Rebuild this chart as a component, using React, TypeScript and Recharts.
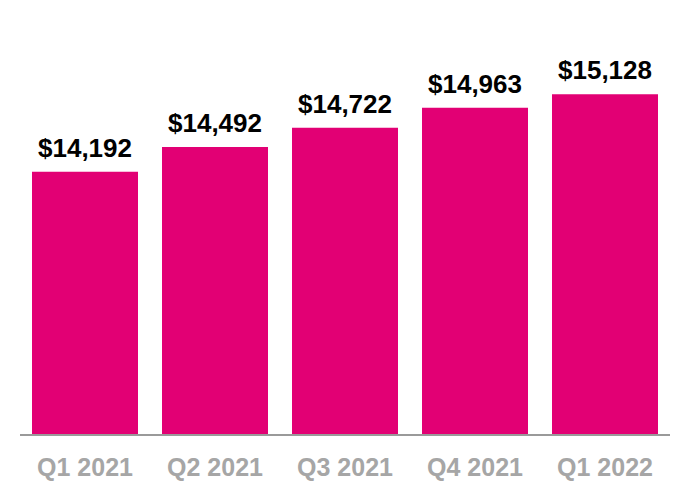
import React from "react";
import { Bar, BarChart, LabelList, XAxis, YAxis } from "recharts";

const quarters = ["Q1 2021", "Q2 2021", "Q3 2021", "Q4 2021", "Q1 2022"];
const revenue = [14192, 14492, 14722, 14963, 15128];

const data = quarters.map((q, i) => ({ quarter: q, value: revenue[i] }));

const fmtDollar = (v: number) => `$${Number(v).toLocaleString("en-US")}`;

export default function App() {
  return (
    <div style={{ position: "absolute", left: 0, top: 0, width: 690, height: 500, background: "#fff" }}>
      <BarChart
        width={690}
        height={500}
        data={data}
        margin={{ top: 55, right: 20, bottom: 0, left: 20 }}
        barSize={106}
      >
        <XAxis
          dataKey="quarter"
          height={65}
          axisLine={{ stroke: "#9a9a9a", strokeWidth: 2 }}
          tickLine={false}
          tickMargin={17}
          tick={{
            fill: "#a6a6a6",
            fontSize: 25,
            fontWeight: "bold",
            fontFamily: "Liberation Sans, Arial, sans-serif",
          }}
        />
        <YAxis hide domain={[11020, 15600]} />
        <Bar dataKey="value" fill="#e20074" isAnimationActive={false}>
          <LabelList
            dataKey="value"
            position="top"
            offset={15}
            formatter={(v: number) => fmtDollar(v)}
            style={{
              fill: "#000",
              fontSize: 26,
              fontWeight: "bold",
              fontFamily: "Liberation Sans, Arial, sans-serif",
            }}
          />
        </Bar>
      </BarChart>
    </div>
  );
}
